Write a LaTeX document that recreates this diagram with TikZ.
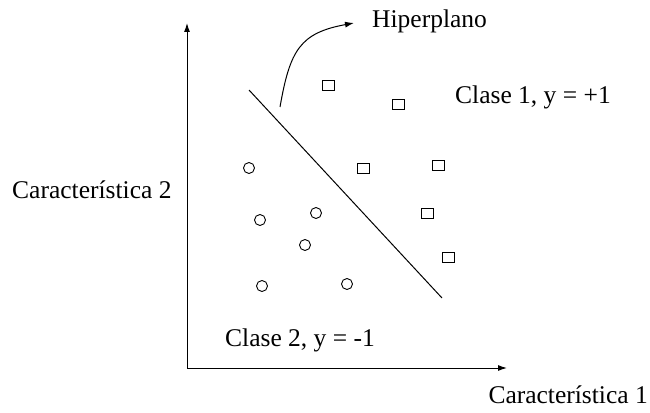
\documentclass[tikz,border=0pt]{standalone}
\usepackage{fontspec}
\setmainfont{Liberation Serif}
\usetikzlibrary{arrows.meta}
\begin{document}
\begin{tikzpicture}[x=1pt,y=-1pt,
  lab/.style={inner sep=0pt,anchor=base west,font=\fontsize{25.5}{30}\selectfont},
  circ/.style={draw,circle,line width=0.9pt,minimum size=11pt,inner sep=0pt},
  sq/.style={draw,rectangle,line width=0.9pt,minimum width=12pt,minimum height=10pt,inner sep=0pt},
  ln/.style={line width=1pt},
  arr/.style={ln,-{Latex[length=9pt,width=6pt]}}]
\useasboundingbox (0,0) rectangle (650,412);
% axes
\coordinate (O) at (187,368);
\coordinate (ytop) at (187,23);
\coordinate (xend) at (507,368);
\draw[arr] (O) -- (ytop);
\draw[arr] (O) -- (xend);
% hyperplane
\coordinate (h0) at (249,90);
\coordinate (h1) at (442,298);
\draw[ln] (h0) -- (h1);
% curved arrow
\coordinate (a0) at (280,107);
\coordinate (a1) at (354,23);
\draw[arr] (a0) .. controls (290,50) and (300,33) .. (a1);
% circles (class 2)
\node[circ] (c1) at (249,168) {};
\node[circ] (c2) at (260,220) {};
\node[circ] (c3) at (316,213) {};
\node[circ] (c4) at (305,245) {};
\node[circ] (c5) at (262,286) {};
\node[circ] (c6) at (347,284) {};
% squares (class 1)
\node[sq] (s1) at (328,85) {};
\node[sq] (s2) at (398,104) {};
\node[sq] (s3) at (363,168) {};
\node[sq] (s4) at (438,165) {};
\node[sq] (s5) at (427,213) {};
\node[sq] (s6) at (448,257) {};
% labels
\node[lab] (thip) at (372,28) {Hiperplano};
\node[lab] (tc1) at (455,103) {Clase 1, y = +1};
\node[lab] (tc2) at (225,346) {Clase 2, y = -1};
\node[lab] (tf2) at (12,198) {Característica 2};
\node[lab,anchor=base east] (tf1) at (648,403) {Característica 1};
\end{tikzpicture}
\end{document}
